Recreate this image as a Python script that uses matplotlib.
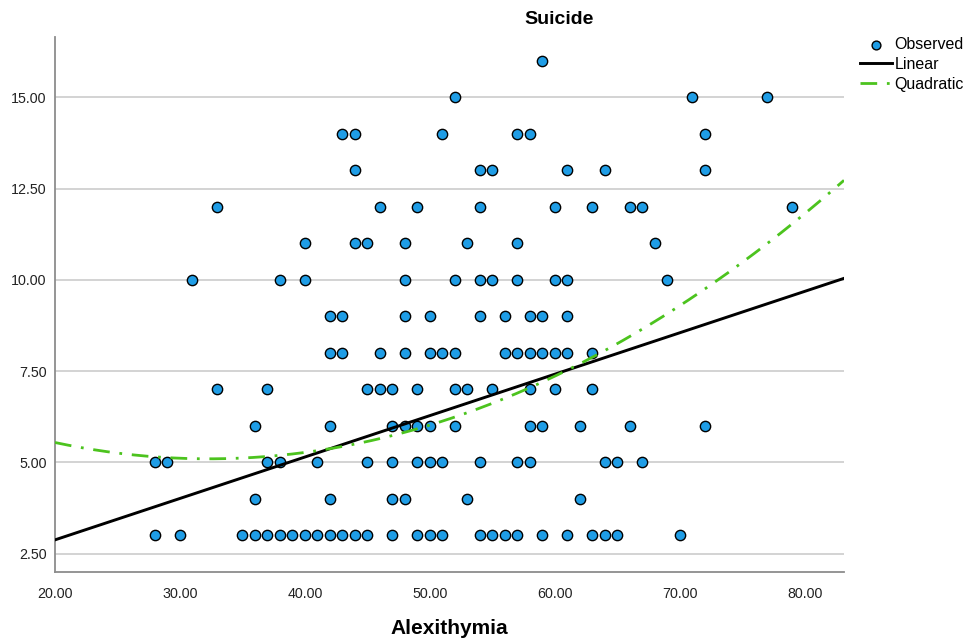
import numpy as np
import matplotlib
matplotlib.use("Agg")
import matplotlib.pyplot as plt

plt.rcParams["font.family"] = ["Liberation Sans", "DejaVu Sans"]

# observed points, one row per Suicide score
alexithymia = (
    [28, 30, 35, 36, 37, 38, 39, 40, 41, 42, 43, 44, 45, 47, 49, 50, 51,
     54, 55, 56, 57, 59, 61, 63, 64, 65, 70]                       # 3
    + [36, 42, 47, 48, 53, 62]                                     # 4
    + [28, 29, 37, 38, 41, 45, 47, 49, 50, 51, 54, 57, 58, 64, 65, 67]  # 5
    + [36, 42, 47, 48, 49, 50, 52, 58, 59, 62, 66, 72]             # 6
    + [33, 37, 45, 46, 47, 49, 52, 53, 55, 58, 60, 63]             # 7
    + [42, 43, 46, 48, 50, 51, 52, 56, 57, 58, 59, 60, 61, 63]     # 8
    + [42, 43, 48, 50, 54, 56, 58, 59, 61]                         # 9
    + [31, 38, 40, 48, 52, 54, 55, 57, 60, 61, 69]                 # 10
    + [40, 44, 45, 48, 53, 57, 68]                                 # 11
    + [33, 46, 49, 54, 60, 63, 66, 67, 79]                         # 12
    + [44, 54, 55, 61, 64, 72]                                     # 13
    + [43, 44, 51, 57, 58, 72]                                     # 14
    + [52, 71, 77]                                                 # 15
    + [59]                                                         # 16
)
row_sizes = [27, 6, 16, 12, 12, 14, 9, 11, 7, 9, 6, 6, 3, 1]
row_scores = [3, 4, 5, 6, 7, 8, 9, 10, 11, 12, 13, 14, 15, 16]
suicide = np.repeat(row_scores, row_sizes)

# fitted curves
linear_coef = [0.612, 0.1134]             # b0, b1
quadratic_coef = [8.178, -0.1906, 0.00295]  # b0, b1, b2

x_ticks = [20, 30, 40, 50, 60, 70, 80]
y_ticks = [2.5, 5.0, 7.5, 10.0, 12.5, 15.0]

fig = plt.figure(figsize=(9.72, 6.42), dpi=100)
ax = fig.add_axes([55 / 972, 1 - 572 / 642, 789 / 972, 535 / 642])

xmin, xmax = 20, 83.15
ax.set_xlim(xmin, xmax)
ax.set_ylim(2.0, 16.65)

for yt in y_ticks:
    ax.axhline(yt, color="#c8c8c8", lw=1.1, zorder=0)

xs = np.linspace(xmin, xmax, 300)
lin = linear_coef[0] + linear_coef[1] * xs
quad = quadratic_coef[0] + quadratic_coef[1] * xs + quadratic_coef[2] * xs ** 2

ax.scatter(alexithymia, suicide, s=55, c="#1f9de6", edgecolors="black",
           linewidths=1.0, zorder=3, label="Observed")
ax.plot(xs, lin, color="black", lw=2.1, zorder=4, label="Linear")
ax.plot(xs, quad, color="#4cc31e", lw=2.0, zorder=5, label="Quadratic",
        dashes=(6, 3.5, 1, 3.5))

ax.set_xticks(x_ticks)
ax.set_xticklabels([f"{v:.2f}" for v in x_ticks])
ax.set_yticks(y_ticks)
ax.set_yticklabels([f"{v:.2f}" for v in y_ticks])
ax.tick_params(length=0, labelsize=10.3, colors="#222222")
ax.tick_params(axis="x", pad=11)
ax.tick_params(axis="y", pad=6)

for side in ["top", "right"]:
    ax.spines[side].set_visible(False)
for side in ["left", "bottom"]:
    ax.spines[side].set_color("#8c8c8c")
    ax.spines[side].set_linewidth(1.3)

fig.text(559 / 972, 1 - 20 / 642, "Suicide", ha="center", va="center",
         fontsize=14, fontweight="bold")
fig.text((55 + 844) / 2 / 972, 1 - 628 / 642, "Alexithymia", ha="center",
         va="center", fontsize=15, fontweight="bold")

leg = fig.legend(loc="upper left", bbox_to_anchor=(860 / 972, 1 - 37 / 642),
                 frameon=False, fontsize=11.5, handlelength=2.0,
                 handletextpad=0.15, labelspacing=0.3, borderpad=0,
                 borderaxespad=0)
leg.legend_handles[0].set_sizes([40])

fig.savefig("out.png", dpi=100)
